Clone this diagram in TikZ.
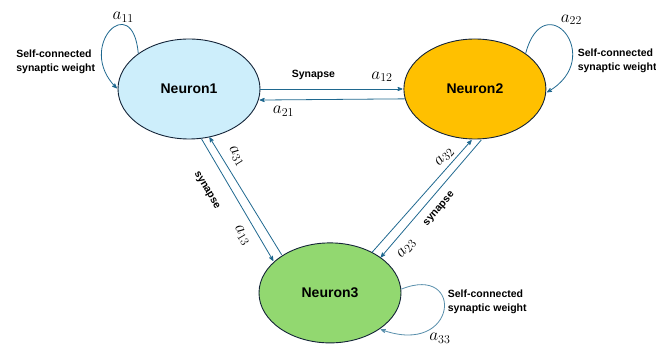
\documentclass[tikz,border=0pt]{standalone}
\usepackage{amsmath}
\usepackage{fontspec}
\setsansfont{Liberation Sans}
\usepackage{tikz}
\usetikzlibrary{arrows,shapes.geometric,positioning}
\definecolor{cellblue}{RGB}{205,238,251}
\definecolor{cellgold}{RGB}{255,192,0}
\definecolor{cellgreen}{RGB}{146,216,112}
\definecolor{linkblue}{RGB}{31,104,143}
\definecolor{rimblue}{RGB}{20,36,56}
\tikzset{
    %Define standard arrow tip
    >=stealth',
    %Define style for neurons
    neuron/.style={
           ellipse,
           draw=rimblue, line width=0.9pt,
           minimum width=142pt,
           minimum height=100pt,
           inner sep=0pt,
           font=\sffamily\bfseries\fontsize{14}{16}\selectfont,
           text centered},
    %Define style for labels
    tag/.style={
           font=\sffamily\bfseries\fontsize{10.5}{12.5}\selectfont},
    weight/.style={
           font=\LARGE,
           inner sep=2pt},
    note/.style={
           font=\sffamily\bfseries\fontsize{10.5}{13.5}\selectfont,
           align=left,
           inner sep=0pt},
    % Define arrow style
    link/.style={
           draw=linkblue,
           thick}
}
\begin{document}
\begin{tikzpicture}[->,>=stealth',shorten >=1pt,node distance=143pt,
  thick,x=1pt,y=-1pt]
\useasboundingbox (0,0) rectangle (656,347);
\node[neuron, fill=cellblue](1) at (189,89){Neuron1};
\node[neuron, fill=cellgold, right=of 1](2){Neuron2};
\node[neuron, fill=cellgreen, below=103pt of 1, xshift=141pt](3){Neuron3};
 \path[every node/.style={tag}]
    (1.east) edge[link] node[pos=0.37, above=6pt]{Synapse}
                        node[weight, pos=0.85, above=5pt]{$a_{12}$} (2.west)
    (2.188) edge[link] node[weight, pos=0.83, below=4pt]{$a_{21}$} (1.-9)
    (1.-76) edge[link] node[sloped, pos=0.33, below, outer sep=14.5pt]{synapse}
                       node[weight, sloped, pos=0.73, below, outer sep=7pt]{$a_{13}$} (3.151)
    (1.-67) edge[link, <-] node[weight, sloped, pos=0.22, above, outer sep=6pt]{$a_{31}$} (3.142)
    (3.44) edge[link] node[weight, sloped, pos=0.79, above, outer sep=2pt]{$a_{32}$} (2.-93)
    (3.35) edge[link, <-] node[sloped, pos=0.48, below, outer sep=6pt]{synapse}
                          node[weight, sloped, pos=0.15, below, outer sep=7pt]{$a_{23}$} (2.-82);
% self loops
\draw[link] (1.145) .. controls +(95:65pt) and +(135:60pt) .. (1.180)
    node[weight, pos=0.3, above]{$a_{11}$};
\draw[link] (2.35) .. controls +(75:72pt) and +(30:70pt) .. (2.-3)
    node[weight, pos=0.4, above right]{$a_{22}$};
\draw[link, draw=linkblue!75] (3.3) .. controls +(22:69pt) and +(-20:83pt) .. (3.-36)
    node[weight, pos=0.7, below right={3pt and -4pt}]{$a_{33}$};
\node[note, left=22pt of 1.west, yshift=27pt](n1){Self-connected\\synaptic weight};
\node[note, right=31pt of 2.east, yshift=28pt](n2){Self-connected\\synaptic weight};
\node[note, right=46pt of 3.east, yshift=-9pt](n3){Self-connected\\synaptic weight};
\end{tikzpicture}
\end{document}
